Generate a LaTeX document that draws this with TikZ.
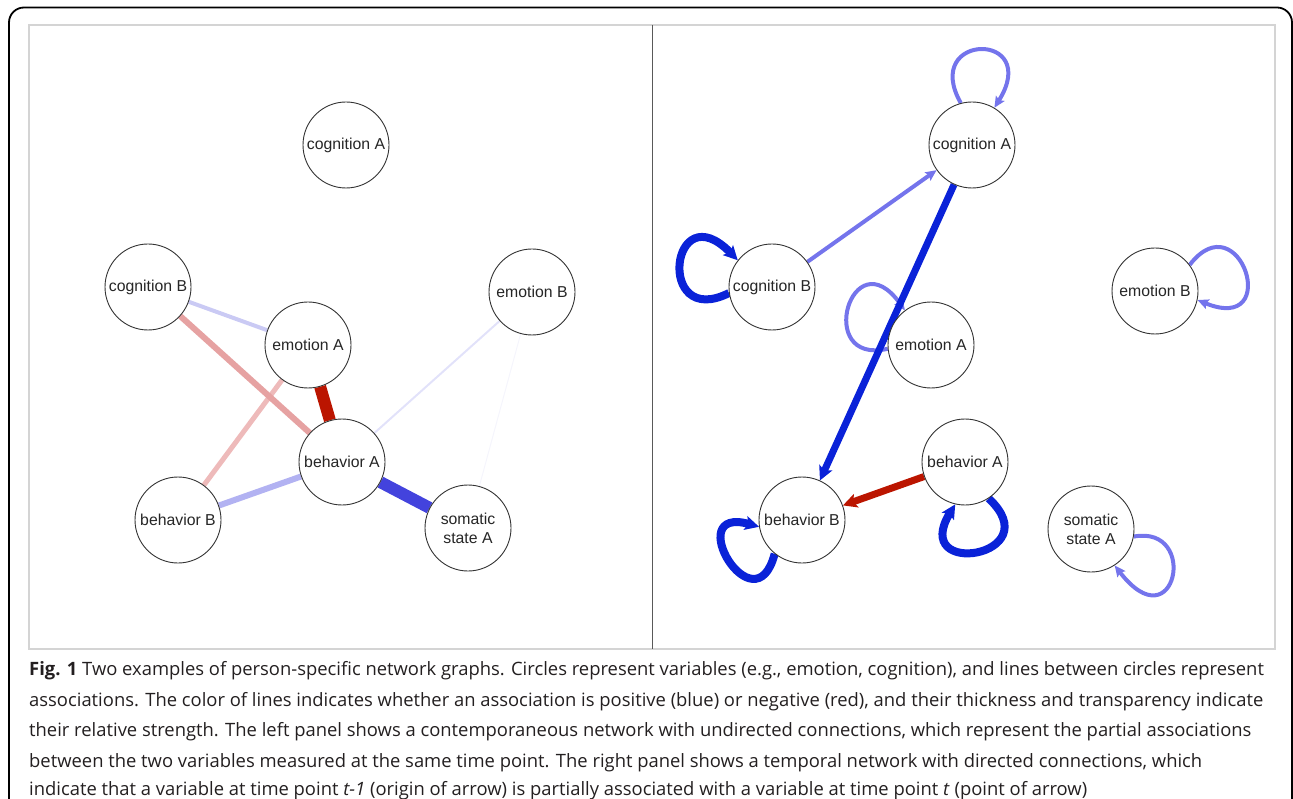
\documentclass[tikz,border=0pt]{standalone}
\usepackage{fontspec}
\setmainfont{Open Sans}
\newfontfamily\arialfont{Liberation Sans}
\usetikzlibrary{arrows.meta}
\pgfdeclarelayer{bg}
\pgfsetlayers{bg,main}
\definecolor{dred}{HTML}{BB1500}
\definecolor{lred1}{HTML}{E6A2A2}
\definecolor{lred2}{HTML}{EEBABA}
\definecolor{sblue}{HTML}{4343DD}
\definecolor{lblue1}{HTML}{B2B2F2}
\definecolor{lblue2}{HTML}{CACAF4}
\definecolor{lblue3}{HTML}{E2E2FA}
\definecolor{lblue4}{HTML}{F5F5FC}
\definecolor{dblue}{HTML}{0A22D8}
\definecolor{mblue}{HTML}{7474EC}
\definecolor{panelgray}{HTML}{D4D4D4}
\definecolor{captext}{HTML}{231F20}
\tikzset{
  var/.style={circle, draw=black!80, line width=0.9pt, fill=white, minimum size=86pt,
    inner sep=0pt, font=\arialfont\fontsize{15.8}{19}\selectfont, text=black!85, align=center},
  capline/.style={anchor=base west, inner sep=0pt, font=\fontsize{18.4}{21}\selectfont, text=captext},
  thintip/.style={-{Stealth[length=11pt,width=10pt,inset=2pt]}},
  thicktip/.style={-{Stealth[length=14pt,width=14pt,inset=3pt]}},
}
\begin{document}
\begin{tikzpicture}[x=1pt,y=-1pt]
\clip (0,0) rectangle (1293,799);
% outer frame
\draw[line width=1.8pt, rounded corners=15pt] (9,7.5) rectangle (1292,815);
% panel
\draw[panelgray, line width=1.3pt] (29,25) rectangle (1275,649);
\draw[black!65, line width=1pt] (652,25) -- (652,649);

% ---------- left panel nodes ----------
\node[var] (Lcoga) at (346,145) {cognition A};
\node[var] (Lcogb) at (148,287) {cognition B};
\node[var] (Lemoa) at (308,345) {emotion A};
\node[var] (Lemob) at (532,292) {emotion B};
\node[var] (Lbeha) at (342,462) {behavior A};
\node[var] (Lbehb) at (178,520) {behavior B};
\node[var] (Lsom) at (468,528) {somatic\\state A};

% ---------- right panel nodes ----------
\node[var] (Rcoga) at (972,145) {cognition A};
\node[var] (Rcogb) at (772,287) {cognition B};
\node[var] (Remoa) at (931,345) {emotion A};
\node[var] (Remob) at (1155,291) {emotion B};
\node[var] (Rbeha) at (965,462) {behavior A};
\node[var] (Rbehb) at (802,520) {behavior B};
\node[var] (Rsom) at (1091,529) {somatic\\state A};

\begin{pgfonlayer}{bg}
% left edges
\draw[lblue4, line width=1pt] (Lemob) -- (Lsom);
\draw[lblue3, line width=2pt] (Lbeha) -- (Lemob);
\draw[lblue2, line width=4pt] (Lcogb) -- (Lemoa);
\draw[lred2, line width=5pt] (Lemoa) -- (Lbehb);
\draw[lred1, line width=6pt] (Lcogb) -- (Lbeha);
\draw[lblue1, line width=6pt] (Lbehb) -- (Lbeha);
\draw[dred, line width=12pt] (Lemoa) -- (Lbeha);
\draw[sblue, line width=12pt] (Lbeha) -- (Lsom);

% right edges
\draw[mblue, line width=4pt, thintip] (Rcoga.105) .. controls +(-40,-71) and +(48,-77) .. (Rcoga.59);
\draw[dblue, line width=8pt, thicktip] (Rcogb.188) .. controls +(-74,37) and +(-67,-69) .. (Rcogb.142);
\draw[mblue, line width=4pt, thintip] (Remoa.185) .. controls +(-74,17) and +(-53,-74) .. (Remoa.127);
\draw[mblue, line width=4pt, thintip] (Remob.37) .. controls +(50,-65) and +(86,35) .. (Remob.-12);
\draw[mblue, line width=4pt, thintip] (Rsom.-10) .. controls +(66,-12) and +(61,79) .. (Rsom.-57);
\draw[dblue, line width=8pt, thicktip] (Rbeha.-57) .. controls +(62,58) and +(-46,75) .. (Rbeha.-103);
\draw[dblue, line width=8pt, thicktip] (Rbehb.231) .. controls +(-20,77) and +(-79,-22) .. (Rbehb.189);
\draw[mblue, line width=4pt, thintip] (Rcogb) -- (Rcoga);
\draw[dblue, line width=7pt, thicktip] (Rcoga) -- (Rbehb);
\draw[dred, line width=7pt, thicktip] (Rbeha) -- (Rbehb);
\end{pgfonlayer}

% caption
\node[capline] (c1) at (29,675.5) {\textbf{Fig. 1} Two examples of person-specific network graphs. Circles represent variables (e.g., emotion, cognition), and lines between circles represent};
\node[capline] (c2) at (29,706) {associations. The color of lines indicates whether an association is positive (blue) or negative (red), and their thickness and transparency indicate};
\node[capline] (c3) at (29,736.5) {their relative strength. The left panel shows a contemporaneous network with undirected connections, which represent the partial associations};
\node[capline] (c4) at (29,767) {between the two variables measured at the same time point. The right panel shows a temporal network with directed connections, which};
\node[capline] (c5) at (29,795.5) {indicate that a variable at time point \textit{t-1} (origin of arrow) is partially associated with a variable at time point \textit{t} (point of arrow)};
\end{tikzpicture}
\end{document}
